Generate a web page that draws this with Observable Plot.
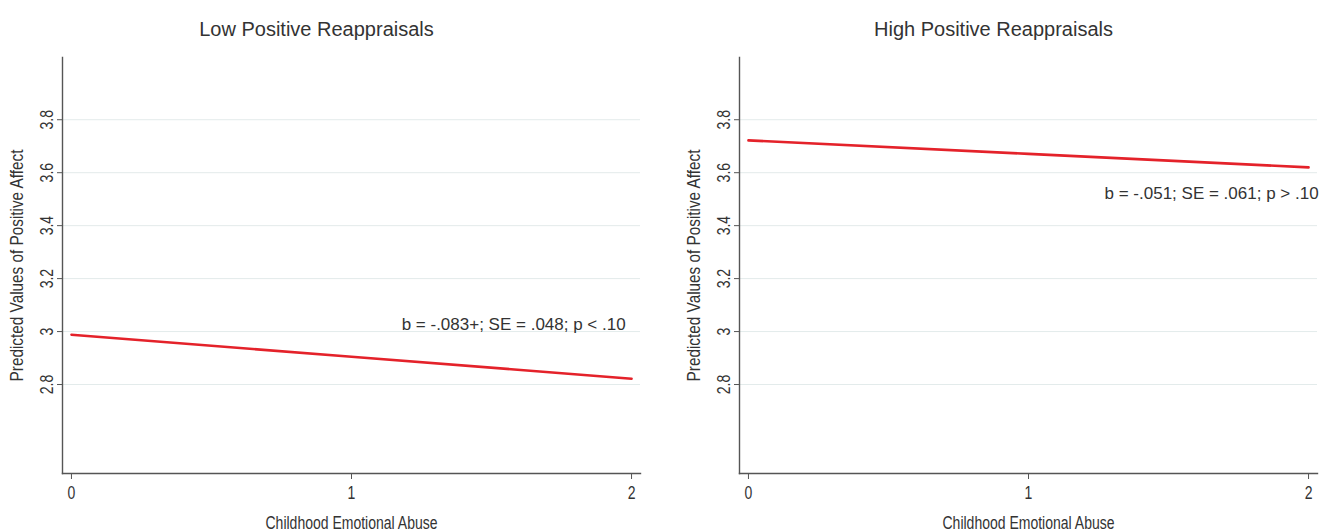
<!DOCTYPE html>
<html>
<head>
<meta charset="utf-8">
<script src="https://cdn.jsdelivr.net/npm/d3@7"></script>
<script src="https://cdn.jsdelivr.net/npm/@observablehq/plot@0.6"></script>
<style>
  html, body { margin: 0; padding: 0; background: #fff; }
  #wrap { position: relative; width: 1330px; height: 531px; overflow: hidden; }
  .panel { position: absolute; top: 0; }
</style>
</head>
<body>
<div id="wrap">
  <div class="panel" id="left" style="left:0px"></div>
  <div class="panel" id="right" style="left:665px"></div>
</div>
<script>
// ---- data ----
const abuse = [0, 1, 2];
const lowReappraisal = [2.988, 2.905, 2.822];
const highReappraisal = [3.722, 3.671, 3.620];
const panelTitles = ["Low Positive Reappraisals", "High Positive Reappraisals"];
const annotations = ["b = -.083+; SE = .048; p < .10", "b = -.051; SE = .061; p > .10"];
const annotationX = [1.979, 2.036];
const annotationY = [3.026, 3.523];
const xTicks = [0, 1, 2];
const yTicks = [2.8, 3.0, 3.2, 3.4, 3.6, 3.8];
const yTickLabels = ["2.8", "3", "3.2", "3.4", "3.6", "3.8"];
const xLabel = "Childhood Emotional Abuse";
const yLabel = "Predicted Values of Positive Affect";

const font = "'Liberation Sans', Arial, Helvetica, sans-serif";
const textColor = "#333333";
const axisColor = "#555555";
const lineColor = "#e4222a";

function panel(values, i, marginLeft, marginRight) {
  const data = abuse.map((x, j) => ({x, y: values[j]}));
  return Plot.plot({
    width: 665,
    height: 531,
    marginLeft,
    marginRight,
    marginTop: 57,
    marginBottom: 58,
    style: `font-family: ${font}; font-size: 14.5px; color: ${textColor}; background: white;`,
    x: {domain: [-0.032, 2.032]},
    y: {domain: [2.464, 4.035]},
    marks: [
      Plot.gridY(yTicks, {stroke: "#e3ebeb", strokeOpacity: 1, strokeWidth: 1}),
      Plot.axisX(xTicks, {
        tickSize: 6, tickPadding: 7, stroke: axisColor, fill: textColor, fontSize: 17.5,
        tickFormat: d => String(d),
        label: null
      }),
      Plot.axisX({
        ticks: [], tickSize: 0, label: xLabel, labelAnchor: "center", labelOffset: 55,
        labelArrow: "none", fontSize: 17.5, fill: textColor
      }),
      Plot.axisY(yTicks, {
        tickSize: 5, tickPadding: 5, tickRotate: -90, stroke: axisColor, fill: textColor, fontSize: 17.5,
        tickFormat: (d, k) => yTickLabels[k],
        label: null
      }),
      Plot.axisY({
        ticks: [], tickSize: 0, label: yLabel, labelAnchor: "center", labelOffset: 52,
        labelArrow: "none", fontSize: 17.5, fill: textColor
      }),
      Plot.frame({anchor: "left", stroke: axisColor, strokeWidth: 1.4}),
      Plot.frame({anchor: "bottom", stroke: axisColor, strokeWidth: 1.4}),
      Plot.line(data, {x: "x", y: "y", stroke: lineColor, strokeWidth: 2.6}),
      Plot.text([annotations[i]], {
        x: annotationX[i], y: annotationY[i], text: d => d,
        textAnchor: "end", fontSize: 17, fill: textColor
      }),
      Plot.text([panelTitles[i]], {
        frameAnchor: "top", dy: -36, dx: -35, text: d => d,
        fontSize: 20, fill: textColor
      })
    ]
  });
}

// condensed look of the axis texts (horizontal compression factors)
const condense = {
  "x-axis tick label": 0.8,
  "y-axis tick label": 0.8,
  "x-axis label": 0.8,
  "y-axis label": 0.875
};

function condenseTexts(svg) {
  for (const [name, factor] of Object.entries(condense)) {
    svg.querySelectorAll(`g[aria-label="${name}"] text`).forEach(t => {
      const len = t.getComputedTextLength();
      if (len > 0) {
        t.setAttribute("textLength", (len * factor).toFixed(2));
        t.setAttribute("lengthAdjust", "spacingAndGlyphs");
      }
    });
  }
}

const left = panel(lowReappraisal, 0, 62, 25);
const right = panel(highReappraisal, 1, 74, 13);
document.getElementById("left").appendChild(left);
document.getElementById("right").appendChild(right);
condenseTexts(left);
condenseTexts(right);
</script>
</body>
</html>
